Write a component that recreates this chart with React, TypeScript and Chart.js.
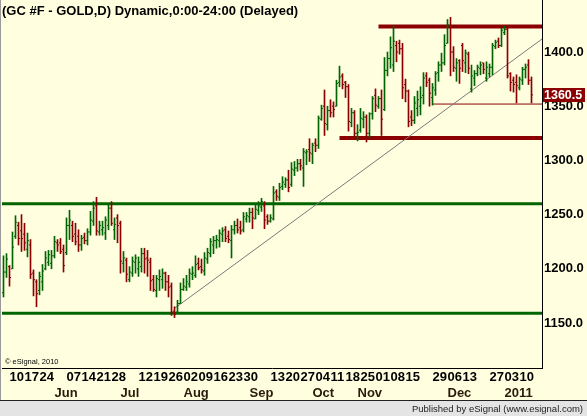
import { useEffect, useRef } from 'react';
import { Chart, registerables } from 'chart.js';

Chart.register(...registerables);

const FONT = '"Liberation Sans", Arial, sans-serif';

// ---- categories: trading days of the continuous gold future ----
const firstDay = '2010-05-06';
const lastDay = '2011-01-14';
const closedDays = ['2010-05-31', '2010-07-05', '2010-09-06', '2010-11-25', '2010-12-24'];

function buildTradingDays(start: string, end: string, closed: string[]): string[] {
  const out: string[] = [];
  const d = new Date(start + 'T00:00:00Z');
  const e = new Date(end + 'T00:00:00Z');
  while (d <= e) {
    const wd = d.getUTCDay();
    const s = d.toISOString().slice(0, 10);
    if (wd !== 0 && wd !== 6 && !closed.includes(s)) out.push(s);
    d.setUTCDate(d.getUTCDate() + 1);
  }
  return out;
}
const dates = buildTradingDays(firstDay, lastDay, closedDays);

// ---- OHLC series ----
const opens = [
  1178, 1197, 1202, 1200, 1230, 1240, 1235, 1232, 1218, 1222, 1196, 1188, 1180, 1188, 1200, 1206, 1205, 1212, 1224, 1224,
  1218, 1215, 1240, 1240, 1232, 1230, 1222, 1229, 1226, 1234, 1244, 1258, 1234, 1236, 1233, 1240, 1256, 1236, 1247, 1242,
  1205, 1208, 1190, 1196, 1206, 1200, 1202, 1214, 1210, 1206, 1190, 1180, 1190, 1190, 1196, 1188, 1184, 1161, 1160, 1168,
  1181, 1183, 1186, 1195, 1194, 1205, 1202, 1198, 1209, 1214, 1222, 1226, 1226, 1232, 1236, 1230, 1226, 1236, 1240, 1238,
  1236, 1246, 1248, 1252, 1246, 1254, 1257, 1258, 1248, 1244, 1246, 1271, 1266, 1276, 1278, 1282, 1278, 1291, 1293, 1297,
  1293, 1307, 1310, 1306, 1316, 1314, 1338, 1350, 1333, 1346, 1350, 1350, 1372, 1378, 1372, 1368, 1335, 1344, 1325, 1328,
  1338, 1340, 1325, 1343, 1360, 1350, 1357, 1347, 1383, 1394, 1388, 1406, 1408, 1403, 1370, 1364, 1340, 1337, 1348, 1350,
  1360, 1378, 1374, 1358, 1365, 1381, 1388, 1390, 1408, 1424, 1400, 1385, 1392, 1406, 1390, 1398, 1366, 1376, 1380, 1385,
  1390, 1376, 1380, 1386, 1405, 1410, 1406, 1418, 1421, 1380, 1374, 1372, 1367, 1374, 1384, 1388, 1374,
];
const highs = [
  1212, 1214, 1203, 1234, 1249, 1243, 1250, 1242, 1233, 1227, 1199, 1190, 1197, 1204, 1216, 1217, 1217, 1230, 1227, 1228,
  1222, 1247, 1254, 1244, 1242, 1236, 1231, 1233, 1237, 1253, 1262, 1266, 1244, 1244, 1248, 1259, 1262, 1247, 1250, 1244,
  1216, 1210, 1202, 1211, 1213, 1211, 1219, 1219, 1217, 1210, 1194, 1194, 1199, 1200, 1197, 1194, 1187, 1165, 1171, 1187,
  1191, 1194, 1200, 1202, 1212, 1210, 1209, 1215, 1219, 1228, 1230, 1231, 1236, 1238, 1239, 1235, 1240, 1244, 1246, 1244,
  1252, 1252, 1256, 1256, 1260, 1262, 1265, 1262, 1250, 1250, 1276, 1273, 1279, 1285, 1284, 1291, 1298, 1299, 1301, 1301,
  1311, 1310, 1320, 1316, 1320, 1341, 1351, 1365, 1350, 1356, 1354, 1374, 1387, 1380, 1373, 1370, 1348, 1346, 1333, 1348,
  1345, 1342, 1344, 1359, 1366, 1359, 1365, 1395, 1400, 1414, 1424, 1410, 1411, 1408, 1375, 1365, 1346, 1359, 1364, 1368,
  1381, 1381, 1376, 1371, 1382, 1391, 1399, 1416, 1430, 1432, 1405, 1394, 1393, 1408, 1402, 1400, 1388, 1383, 1388, 1391,
  1390, 1391, 1389, 1408, 1411, 1413, 1422, 1424, 1422, 1381, 1377, 1379, 1377, 1386, 1389, 1393, 1377,
];
const lows = [
  1174, 1192, 1184, 1200, 1228, 1222, 1216, 1217, 1211, 1191, 1175, 1165, 1176, 1180, 1199, 1203, 1200, 1210, 1216, 1214,
  1197, 1213, 1227, 1225, 1222, 1216, 1217, 1223, 1222, 1231, 1240, 1231, 1231, 1231, 1227, 1236, 1240, 1227, 1224, 1196,
  1197, 1188, 1188, 1193, 1196, 1193, 1197, 1196, 1193, 1180, 1179, 1174, 1180, 1182, 1180, 1174, 1157, 1155, 1160, 1168,
  1180, 1180, 1183, 1190, 1192, 1199, 1196, 1194, 1205, 1211, 1214, 1219, 1220, 1225, 1225, 1224, 1210, 1232, 1233, 1232,
  1234, 1243, 1243, 1237, 1246, 1250, 1253, 1237, 1241, 1243, 1245, 1263, 1263, 1273, 1275, 1271, 1276, 1286, 1290, 1291,
  1276, 1296, 1299, 1297, 1308, 1311, 1337, 1323, 1328, 1340, 1340, 1350, 1368, 1366, 1358, 1327, 1331, 1320, 1318, 1326,
  1330, 1317, 1321, 1338, 1345, 1348, 1323, 1346, 1378, 1385, 1382, 1391, 1398, 1357, 1354, 1331, 1332, 1334, 1341, 1342,
  1352, 1368, 1350, 1351, 1360, 1373, 1382, 1388, 1408, 1378, 1382, 1373, 1371, 1382, 1381, 1380, 1363, 1369, 1378, 1379,
  1380, 1373, 1377, 1379, 1403, 1404, 1405, 1416, 1376, 1364, 1363, 1353, 1365, 1370, 1376, 1370, 1353,
];
const closes = [
  1197, 1209, 1192, 1220, 1243, 1228, 1228, 1224, 1226, 1195, 1190, 1177, 1193, 1198, 1210, 1213, 1212, 1225, 1222, 1216,
  1203, 1240, 1245, 1230, 1225, 1222, 1228, 1226, 1234, 1245, 1256, 1235, 1240, 1238, 1245, 1256, 1242, 1241, 1240, 1207,
  1210, 1195, 1197, 1207, 1210, 1206, 1214, 1209, 1208, 1189, 1181, 1191, 1193, 1196, 1188, 1183, 1160, 1158, 1168, 1181,
  1184, 1188, 1196, 1196, 1204, 1201, 1199, 1210, 1215, 1225, 1226, 1227, 1233, 1235, 1228, 1227, 1236, 1240, 1236, 1235,
  1248, 1249, 1252, 1247, 1255, 1258, 1262, 1245, 1244, 1247, 1270, 1267, 1275, 1280, 1282, 1275, 1292, 1293, 1297, 1295,
  1308, 1308, 1307, 1314, 1314, 1339, 1348, 1334, 1346, 1344, 1347, 1371, 1377, 1370, 1368, 1336, 1344, 1325, 1326, 1339,
  1340, 1325, 1343, 1357, 1351, 1357, 1338, 1383, 1394, 1404, 1410, 1400, 1403, 1367, 1364, 1336, 1337, 1353, 1356, 1358,
  1376, 1372, 1362, 1367, 1380, 1388, 1390, 1406, 1425, 1400, 1386, 1390, 1385, 1392, 1399, 1385, 1378, 1380, 1386, 1388,
  1384, 1386, 1386, 1406, 1409, 1406, 1420, 1421, 1378, 1372, 1370, 1369, 1375, 1384, 1386, 1374, 1360.5,
];

// ---- axis tick labels ----
const dayTickDates = [
  '2010-05-10', '2010-05-17', '2010-05-24', '2010-06-07', '2010-06-14', '2010-06-21', '2010-06-28',
  '2010-07-12', '2010-07-19', '2010-07-26', '2010-08-02', '2010-08-09', '2010-08-16', '2010-08-23', '2010-08-30',
  '2010-09-13', '2010-09-20', '2010-09-27', '2010-10-04', '2010-10-11', '2010-10-18', '2010-10-25',
  '2010-11-01', '2010-11-08', '2010-11-15', '2010-11-29', '2010-12-06', '2010-12-13', '2010-12-27',
  '2011-01-03', '2011-01-10',
];
const monthTickDates = ['2010-06-01', '2010-07-01', '2010-08-02', '2010-09-01', '2010-10-01', '2010-10-22', '2010-12-06', '2011-01-03'];
const monthTickLabels = ['Jun', 'Jul', 'Aug', 'Sep', 'Oct', 'Nov', 'Dec', '2011'];
const yTickValues = [1150, 1200, 1250, 1300, 1350, 1400];

// ---- drawn study lines ----
const greenLevels = [1260, 1159];
const redLevels = [1423.5, 1320.8];
const redLevelStarts = ['2010-11-02', '2010-10-14'];
const supportLevel = 1352;
const supportStart = '2010-11-29';
const trendStart = '2010-07-28';
const trendPrices = [1163.5, 1412];

const titleText = '(GC #F - GOLD,D) Dynamic,0:00-24:00 (Delayed)';

const GREEN = '#006400';
const RED = '#8B0000';
const BG = '#FFFFE0';

export default function App() {
  const ref = useRef<HTMLCanvasElement | null>(null);

  useEffect(() => {
    document.body.style.margin = '0';
    const canvas = ref.current;
    if (!canvas) return;
    const n = Math.min(dates.length, opens.length, highs.length, lows.length, closes.length);
    const idx = (d: string) => dates.indexOf(d);
    const xMin = -0.5;
    const xMax = 179.5;
    const yMin = 1108.5;
    const yMax = 1448;
    const colors = Array.from({ length: n }, (_, i) => (closes[i] >= opens[i] ? GREEN : RED));
    const dayIdx = dayTickDates.map(idx);
    const monthIdx = monthTickDates.map(idx);

    const decor = {
      id: 'decor',
      beforeDraw(c: any) {
        const ctx = c.ctx;
        ctx.save();
        ctx.fillStyle = BG;
        ctx.fillRect(0, 0, c.width, c.height);
        ctx.fillStyle = '#E4E4E4';
        ctx.fillRect(0, 401, c.width, c.height - 401);
        ctx.fillStyle = '#222';
        ctx.fillRect(0, 400, c.width, 1);
        ctx.fillStyle = '#9A9A9A';
        ctx.fillRect(0, 0, 1, 400);
        ctx.restore();
      },
      afterDraw(c: any) {
        const ctx = c.ctx;
        const ys = c.scales.y;
        ctx.save();
        ctx.fillStyle = '#000';
        ctx.font = `bold 13px ${FONT}`;
        ctx.textBaseline = 'alphabetic';
        ctx.textAlign = 'left';
        ctx.fillText(titleText, 2, 15);
        ctx.font = `7.5px ${FONT}`;
        ctx.fillText('\u00A9 eSignal, 2010', 5, 364);
        ctx.font = `9.5px ${FONT}`;
        ctx.fillStyle = '#222';
        ctx.textAlign = 'right';
        ctx.fillText('Published by eSignal (www.esignal.com)', 583, 412);
        // last price box
        const last = closes[n - 1];
        const py = Math.round(ys.getPixelForValue(last));
        ctx.fillStyle = RED;
        ctx.fillRect(543, py - 7, 42, 14);
        ctx.fillStyle = '#fff';
        ctx.font = `bold 12.5px ${FONT}`;
        ctx.textAlign = 'left';
        ctx.textBaseline = 'middle';
        ctx.fillText(last.toFixed(1), 544, py + 0.5);
        ctx.restore();
      },
    };

    const levelLine = (x0: number, x1: number, v: number, color: string, w: number) => ({
      type: 'line' as const,
      data: [{ x: x0, y: v }, { x: x1, y: v }],
      borderColor: color,
      borderWidth: w,
      pointRadius: 0,
      order: 2,
    });

    const datasets: any[] = [
      {
        type: 'bar',
        data: Array.from({ length: n }, (_, i) => ({ x: i, y: [lows[i], highs[i]] })),
        backgroundColor: colors,
        borderWidth: 0,
        barThickness: 1,
        grouped: false,
        order: 0,
      },
      {
        type: 'scatter',
        data: Array.from({ length: n }, (_, i) => ({ x: i - 1 / 3, y: opens[i] })),
        pointStyle: 'line',
        pointRadius: 0.5,
        pointBorderWidth: 1,
        pointBorderColor: colors,
        pointBackgroundColor: colors,
        order: 0,
      },
      {
        type: 'scatter',
        data: Array.from({ length: n }, (_, i) => ({ x: i + 1 / 3, y: closes[i] })),
        pointStyle: 'line',
        pointRadius: 0.5,
        pointBorderWidth: 1,
        pointBorderColor: colors,
        pointBackgroundColor: colors,
        order: 0,
      },
      ...greenLevels.map((v) => levelLine(xMin, xMax, v, GREEN, 3)),
      ...redLevels.map((v, k) => levelLine(idx(redLevelStarts[k]), xMax, v, RED, 4)),
      levelLine(idx(supportStart), xMax, supportLevel, RED, 1),
      {
        type: 'line',
        data: [
          { x: idx(trendStart), y: trendPrices[0] },
          { x: xMax, y: trendPrices[1] },
        ],
        borderColor: '#7A7A7A',
        borderWidth: 1,
        pointRadius: 0,
        order: 1,
      },
    ];

    const tickFont = { family: FONT, size: 13, weight: 'bold' as const };
    const noPad = (s: any) => {
      s.paddingTop = 0;
      s.paddingBottom = 0;
      s.paddingLeft = 0;
      s.paddingRight = 0;
    };

    const chart = new Chart(canvas, {
      type: 'bar',
      data: { datasets },
      options: {
        animation: false,
        responsive: false,
        devicePixelRatio: 1,
        events: [],
        layout: { autoPadding: false, padding: { left: 2, top: 0, right: 0, bottom: 16 } },
        plugins: { legend: { display: false }, tooltip: { enabled: false }, title: { display: false } },
        scales: {
          x: {
            type: 'linear',
            position: 'bottom',
            weight: 0,
            min: xMin,
            max: xMax,
            offset: false,
            grid: { display: false, drawTicks: false },
            border: { display: true, color: '#000', width: 1 },
            ticks: {
              autoSkip: false,
              maxRotation: 0,
              minRotation: 0,
              align: 'start',
              padding: 2,
              font: tickFont,
              color: '#000',
              callback: (_v: any, i: number) => dayTickDates[i].slice(8, 10),
            },
            afterBuildTicks: (s: any) => {
              s.ticks = dayIdx.map((v) => ({ value: v }));
            },
            afterFit: (s: any) => {
              s.height = 16;
              noPad(s);
            },
          },
          x2: {
            type: 'linear',
            position: 'bottom',
            weight: 1,
            min: xMin,
            max: xMax,
            offset: false,
            grid: { display: false, drawTicks: false },
            border: { display: false },
            ticks: {
              autoSkip: false,
              maxRotation: 0,
              minRotation: 0,
              align: 'start',
              padding: 2,
              font: tickFont,
              color: '#2a1a0a',
              callback: (_v: any, i: number) => monthTickLabels[i],
            },
            afterBuildTicks: (s: any) => {
              s.ticks = monthIdx.map((v) => ({ value: v }));
            },
            afterFit: (s: any) => {
              s.height = 16;
              noPad(s);
            },
          },
          y: {
            type: 'linear',
            position: 'right',
            min: yMin,
            max: yMax,
            grid: { display: false, drawTicks: false },
            border: { display: true, color: '#000', width: 1 },
            ticks: {
              padding: 2,
              font: tickFont,
              color: '#000',
              callback: (v: any) => Number(v).toFixed(1),
            },
            afterBuildTicks: (s: any) => {
              s.ticks = yTickValues.map((v) => ({ value: v }));
            },
            afterFit: (s: any) => {
              s.width = 45;
              noPad(s);
            },
          },
        },
      } as any,
      plugins: [decor],
    });
    return () => chart.destroy();
  }, []);

  return (
    <div style={{ width: 587, height: 416 }}>
      <canvas ref={ref} width={587} height={416} style={{ display: 'block', width: 587, height: 416 }} />
    </div>
  );
}
